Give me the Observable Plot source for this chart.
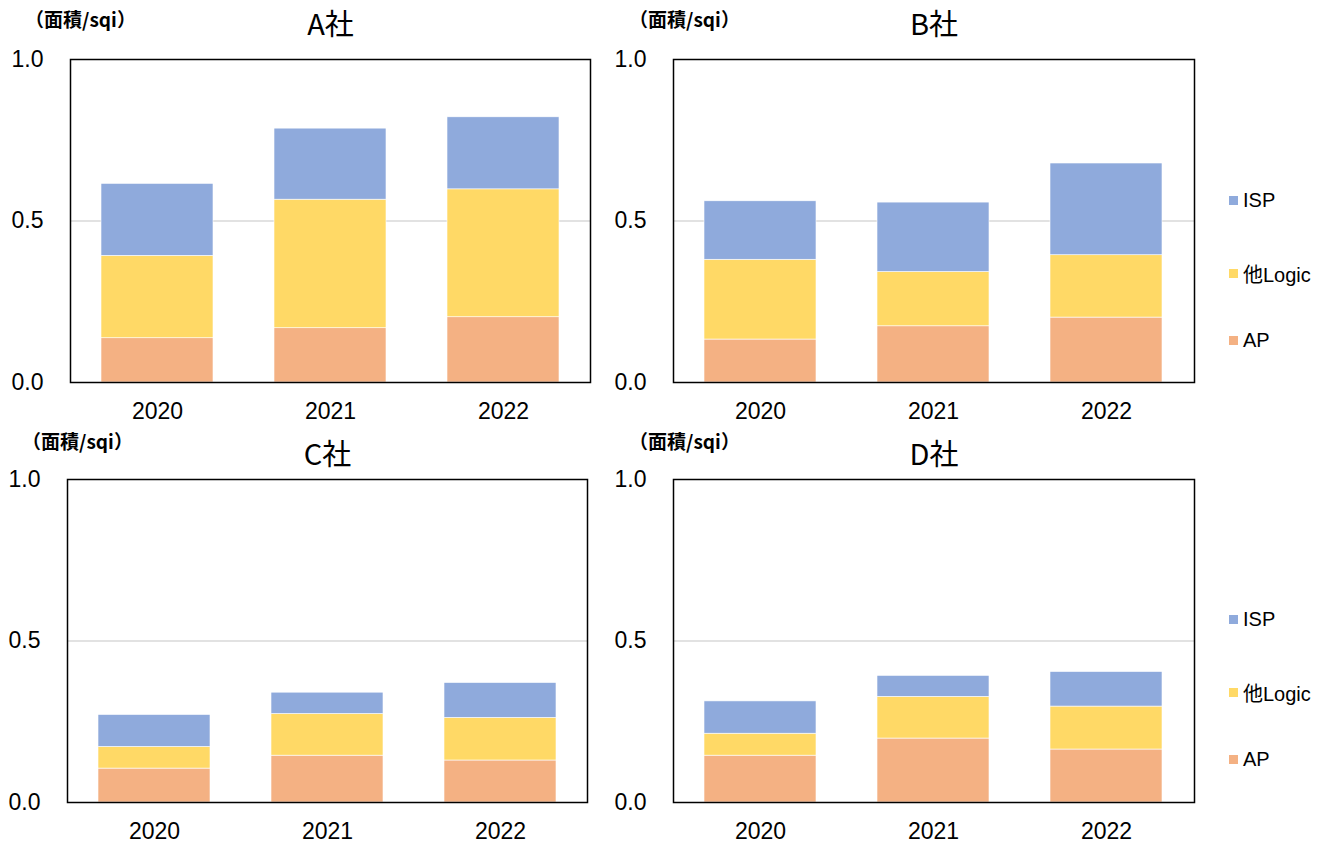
<!DOCTYPE html>
<html>
<head>
<meta charset="utf-8">
<script src="https://cdn.jsdelivr.net/npm/d3@7"></script>
<script src="https://cdn.jsdelivr.net/npm/@observablehq/plot@0.6"></script>
<style>
  html, body { margin: 0; padding: 0; background: #fff; }
  #root { position: relative; width: 1327px; height: 843px; overflow: hidden; }
  .panel { position: absolute; }
  .legend { position: absolute; font-family: "Liberation Sans", Arial, "Noto Sans CJK JP", sans-serif; font-size: 20px; color: #000; }
  .legend .item { position: absolute; left: 0; white-space: nowrap; display: flex; align-items: center; }
  .legend .sw { width: 9px; height: 9px; margin-right: 5px; display: inline-block; }
</style>
</head>
<body>
<div id="root"></div>
<script>
// ---- data ----
const years = ["2020", "2021", "2022"];
const seriesNames = ["AP", "他Logic", "ISP"];           // stack order, bottom to top
const legendOrder = ["ISP", "他Logic", "AP"];
const companies = ["A社", "B社", "C社", "D社"];
const unitLabel = "（面積/sqi）";
const yTicks = [0, 0.5, 1.0];
const gridValues = [0.5];

const apA = [0.137, 0.168, 0.202];
const logicA = [0.255, 0.398, 0.396];
const ispA = [0.223, 0.220, 0.223];

const apB = [0.133, 0.174, 0.201];
const logicB = [0.247, 0.168, 0.193];
const ispB = [0.181, 0.215, 0.284];

const apC = [0.105, 0.145, 0.130];
const logicC = [0.067, 0.129, 0.132];
const ispC = [0.099, 0.066, 0.108];

const apD = [0.145, 0.198, 0.164];
const logicD = [0.068, 0.129, 0.133];
const ispD = [0.100, 0.065, 0.107];

// ---- styles ----
const colors = ["#F4B183", "#FFD966", "#8FAADC"];

function panel(name, ap, logic, isp, opt) {
  const data = [];
  years.forEach((yr, i) => {
    data.push({year: yr, series: seriesNames[0], value: ap[i]});
    data.push({year: yr, series: seriesNames[1], value: logic[i]});
    data.push({year: yr, series: seriesNames[2], value: isp[i]});
  });
  const chart = Plot.plot({
    width: opt.width,
    height: 421,
    marginLeft: opt.marginLeft,
    marginRight: opt.marginRight,
    marginTop: 59,
    marginBottom: 39,
    style: {fontFamily: '"Liberation Sans", Arial, sans-serif', fontSize: "23px", color: "#000", background: "transparent", overflow: "visible"},
    x: {domain: years, paddingInner: 0.35, paddingOuter: 0.175, label: null, tickSize: 0, tickPadding: 20},
    y: {domain: [0, 1], ticks: yTicks, tickFormat: d3.format(".1f"), label: null, tickSize: 0, tickPadding: 27},
    color: {domain: seriesNames, range: colors},
    marks: [
      Plot.ruleY(gridValues, {stroke: "#d9d9d9", strokeWidth: 1.5}),
      Plot.barY(data, {x: "year", y: "value", fill: "series", stroke: "#fff", strokeWidth: 0.6}),
      Plot.frame({stroke: "#000", strokeWidth: 1.5}),
      Plot.text([name], {frameAnchor: "top", dy: opt.titleDy, fontSize: 29, fontFamily: '"Noto Sans CJK JP", sans-serif', textAnchor: "middle", lineAnchor: "middle", fill: "#000"}),
      Plot.text([unitLabel], {frameAnchor: "top-left", dx: opt.unitDx, dy: opt.unitDy, fontSize: 19, fontWeight: "bold", fontFamily: '"Noto Sans CJK JP", sans-serif', textAnchor: "middle", lineAnchor: "middle", fill: "#000"})
    ]
  });
  chart.classList.add("panel");
  chart.style.left = opt.left + "px";
  chart.style.top = opt.top + "px";
  document.getElementById("root").appendChild(chart);
}

panel(companies[0], apA, logicA, ispA, {left: 0, top: 0, width: 600, marginLeft: 70, marginRight: 10, titleDy: -34, unitDx: 10, unitDy: -39});
panel(companies[1], apB, logicB, ispB, {left: 600, top: 0, width: 600, marginLeft: 73, marginRight: 6, titleDy: -34, unitDx: 11, unitDy: -39});
panel(companies[2], apC, logicC, ispC, {left: 0, top: 420, width: 597, marginLeft: 67, marginRight: 10, titleDy: -24, unitDx: 10, unitDy: -37});
panel(companies[3], apD, logicD, ispD, {left: 600, top: 420, width: 600, marginLeft: 73, marginRight: 6, titleDy: -24, unitDx: 11, unitDy: -37});

function legend(top) {
  const lg = document.createElement("div");
  lg.className = "legend";
  lg.style.left = "1229px";
  lg.style.top = top + "px";
  legendOrder.forEach((s, i) => {
    const it = document.createElement("div");
    it.className = "item";
    it.style.top = (i * 70) + "px";
    const sw = document.createElement("span");
    sw.className = "sw";
    sw.style.background = colors[seriesNames.indexOf(s)];
    const tx = document.createElement("span");
    tx.textContent = s;
    it.appendChild(sw);
    it.appendChild(tx);
    lg.appendChild(it);
  });
  document.getElementById("root").appendChild(lg);
}
legend(189);
legend(608);
</script>
</body>
</html>
